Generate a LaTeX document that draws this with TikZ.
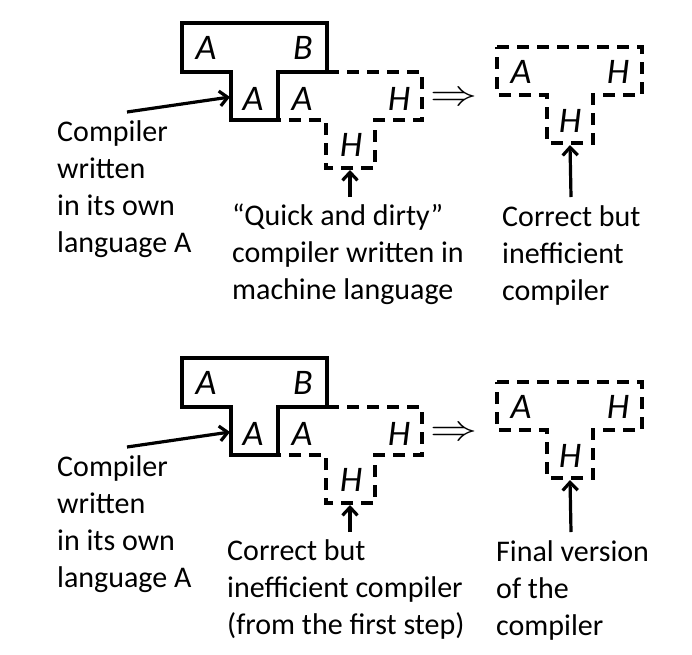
\documentclass[tikz,border=0pt]{standalone}
\usepackage{fontspec}
\setmainfont{Carlito}
\usetikzlibrary{arrows.meta}

\tikzset{
  tbox/.style={line width=3.3pt, line join=miter},
  dbox/.style={tbox, dash pattern=on 12pt off 8pt},
  lang/.style={font=\fontsize{36}{36}\selectfont\itshape, inner sep=0pt},
  note/.style={font=\fontsize{30}{37}\selectfont, align=left, inner sep=0pt, anchor=base west},
  pointer/.style={line width=3.2pt, -{Straight Barb[length=8pt,width=15pt]}}
}

\begin{document}
\begin{tikzpicture}[x=1pt,y=-1pt]
\useasboundingbox (0,0) rectangle (692,654);
\foreach \dy/\mx/\rx/\midtxt/\righttxt in {
  0/232/502/{“Quick and dirty”\\compiler written in\\machine language}/{Correct but\\inefficient\\compiler},
  335/227/496/{Correct but\\inefficient compiler\\(from the first step)}/{Final version\\of the\\compiler}}
{
\begin{scope}[shift={(0,\dy)}]
  % compiler for A written in A
  \draw[tbox] (182,23) -- (327,23) -- (327,72) -- (278,72) -- (278,120)
     -- (231,120) -- (231,72) -- (182,72) -- cycle;
  % compiler from A to H running on H
  \draw[dbox] (327,72) -- (422,72) -- (422,120) -- (375,120) -- (375,168)
     -- (326,168) -- (326,120) -- (278,120);
  % result
  \draw[dbox] (497,47) -- (642,47) -- (642,95) -- (593,95) -- (593,143)
     -- (547,143) -- (547,95) -- (497,95) -- cycle;

  \node[lang] (src) at (206,48) {A};
  \node[lang] (tgt) at (303,48) {B};
  \node[lang] (impl) at (253,99) {A};
  \node[lang] (qsrc) at (302,99) {A};
  \node[lang] (qtgt) at (399,99) {H};
  \node[lang] (qimpl) at (351,145) {H};
  \node[lang] (rsrc) at (521,72) {A};
  \node[lang] (rtgt) at (618,72) {H};
  \node[lang] (rimpl) at (570,121) {H};

  \node[inner sep=0pt] (step) at (454,99) {\scalebox{4.7}[3.6]{$\Rightarrow$}};

  % anchored at the baseline of the last line
  \node[note] (own) at (57,252) {Compiler\\written\\in its own\\language A};
  \node[note] (mid) at (\mx,299) {\midtxt};
  \node[note] (res) at (\rx,300) {\righttxt};

  \coordinate (ownTail) at (127,112);
  \coordinate (ownTip) at (230,97);
  \coordinate (midTail) at (350,197);
  \coordinate (midTip) at (350,170);
  \coordinate (resTail) at (571,197);
  \coordinate (resTip) at (570,145);
  \draw[pointer] (ownTail) -- (ownTip);
  \draw[pointer] (midTail) -- (midTip);
  \draw[pointer] (resTail) -- (resTip);
\end{scope}
}
\end{tikzpicture}
\end{document}
